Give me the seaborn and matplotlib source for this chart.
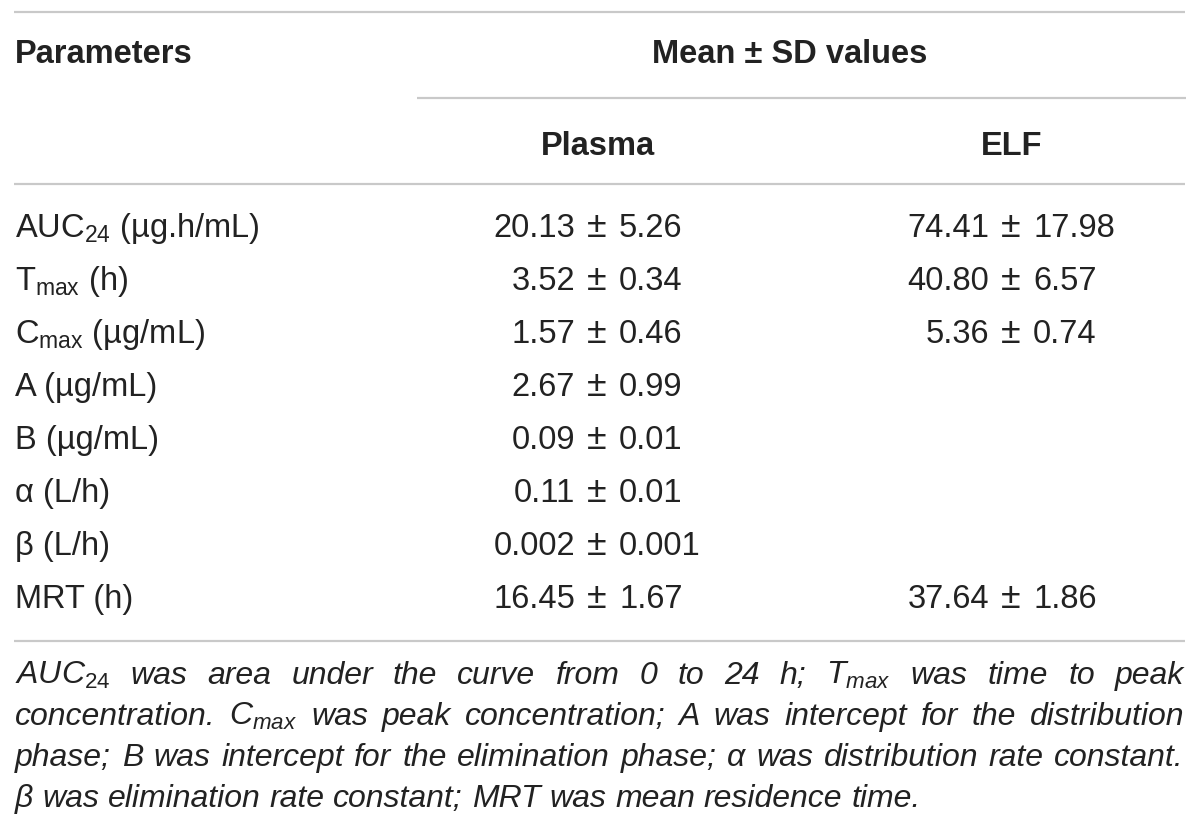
import matplotlib
matplotlib.use("Agg")
import matplotlib.pyplot as plt
import seaborn as sns
import pandas as pd

# --- table data ---
parameters = [r"$\mathrm{AUC}_{24}$ (µg.h/mL)", r"$\mathrm{T}_{\mathrm{max}}$ (h)",
              r"$\mathrm{C}_{\mathrm{max}}$ (µg/mL)", "A (µg/mL)", "B (µg/mL)",
              "α (L/h)", "β (L/h)", "MRT (h)"]
plasma_mean = ["20.13", "3.52", "1.57", "2.67", "0.09", "0.11", "0.002", "16.45"]
plasma_sd = ["5.26", "0.34", "0.46", "0.99", "0.01", "0.01", "0.001", "1.67"]
elf_mean = ["74.41", "40.80", "5.36", None, None, None, None, "37.64"]
elf_sd = ["17.98", "6.57", "0.74", None, None, None, None, "1.86"]

header_left = "Parameters"
header_group = "Mean ± SD values"
columns = ["Plasma", "ELF"]

footnote = [
    r"$\mathit{AUC}_{\mathit{24}}$ was area under the curve from 0 to 24 h; $\mathit{T}_{\mathit{max}}$ was time to peak",
    r"concentration. $\mathit{C}_{\mathit{max}}$ was peak concentration; A was intercept for the distribution",
    "phase; B was intercept for the elimination phase; α was distribution rate constant.",
    "β was elimination rate constant; MRT was mean residence time.",
]

df = pd.DataFrame({"param": parameters, "p_mean": plasma_mean, "p_sd": plasma_sd,
                   "e_mean": elf_mean, "e_sd": elf_sd})

sns.set_theme(style="white")
plt.rcParams["font.family"] = ["Liberation Sans", "DejaVu Sans"]
plt.rcParams["mathtext.fontset"] = "custom"
plt.rcParams["mathtext.rm"] = "Liberation Sans"
plt.rcParams["mathtext.it"] = "Liberation Sans:italic"
plt.rcParams["mathtext.bf"] = "Liberation Sans:bold"

W, H = 1200, 831
fig = plt.figure(figsize=(12, 8.31), dpi=100)
ax = fig.add_axes([0, 0, 1, 1])
ax.set_xlim(0, W)
ax.set_ylim(H, 0)
ax.axis("off")

txt = "#222222"
rule = "#c9c9c9"
fs = 23.5
fs_foot = 23

# rules
ax.hlines([12, 184, 641], 14, 1185, color=rule, lw=1.6)
ax.hlines(98, 417, 1186, color=rule, lw=1.6)

# headers
ax.text(15, 63, header_left, fontsize=fs, fontweight="bold", color=txt, va="baseline")
ax.text(790, 63, header_group, fontsize=fs, fontweight="bold", color=txt, va="baseline", ha="center")
ax.text(598, 155, columns[0], fontsize=fs, fontweight="bold", color=txt, va="baseline", ha="center")
ax.text(1012, 155, columns[1], fontsize=fs, fontweight="bold", color=txt, va="baseline", ha="center")

# body rows, aligned on the ± sign
row0, step = 237, 53
pm_x = {"p": 597, "e": 1011}
off = 22
for i, r in df.iterrows():
    y = row0 + i * step
    ax.text(15, y, r["param"], fontsize=fs, color=txt, va="baseline")
    for key in ("p", "e"):
        m, s = r[key + "_mean"], r[key + "_sd"]
        if m is None:
            continue
        x = pm_x[key]
        ax.text(x - off, y, m, fontsize=fs, color=txt, va="baseline", ha="right")
        ax.text(x, y, "±", fontsize=fs * 1.1, color=txt, va="baseline", ha="center")
        ax.text(x + off, y, s, fontsize=fs, color=txt, va="baseline", ha="left")

# footnote, justified except the last line
renderer = fig.canvas.get_renderer()
x0, x1 = 15, 1184
space = 0.278 * fs_foot * 100 / 72
for j, line in enumerate(footnote):
    y = 684 + j * 41
    words = []
    for w in line.split(" "):
        if words and words[-1].count("$") % 2 == 1:
            words[-1] += " " + w
        else:
            words.append(w)
    objs = [ax.text(0, y, w, fontsize=fs_foot, style="italic", color=txt, va="baseline")
            for w in words]
    widths = [o.get_window_extent(renderer).width for o in objs]
    if j < len(footnote) - 1:
        gap = (x1 - x0 - sum(widths)) / (len(words) - 1)
    else:
        gap = space
    x = x0
    for o, wd in zip(objs, widths):
        o.set_x(x)
        x += wd + gap

fig.savefig("out.png", dpi=100, facecolor="white")
